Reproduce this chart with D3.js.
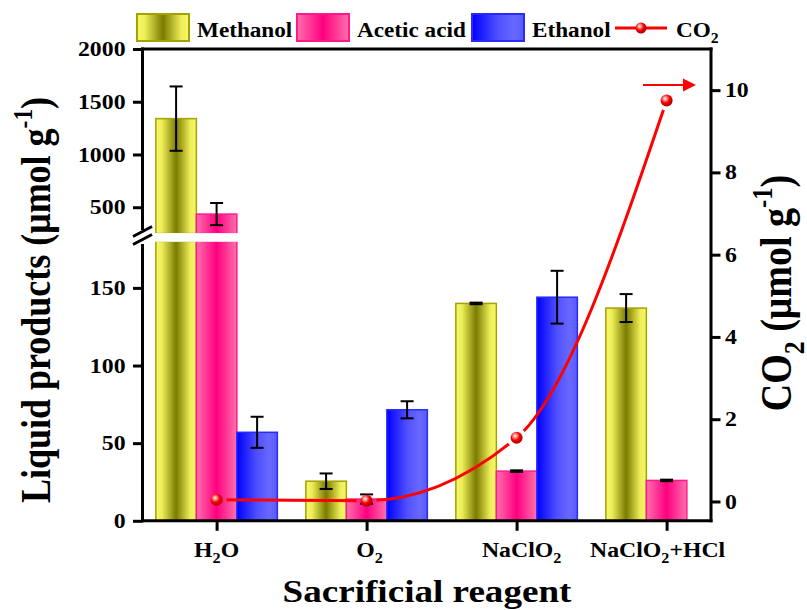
<!DOCTYPE html>
<html>
<head>
<meta charset="utf-8">
<script src="https://cdn.jsdelivr.net/npm/d3@7"></script>
<style>
  body { margin: 0; background: #fff; }
  svg { display: block; }
  text { font-family: "Liberation Serif", "Times New Roman", serif; font-weight: bold; fill: #000; }
</style>
</head>
<body>
<svg id="chart" width="807" height="610"></svg>
<script>
// data
const categories = ["H2O", "O2", "NaClO2", "NaClO2+HCl"];
const methanol = [1340, 25.5, 140, 137];
const methanolErr = [305, 5, 0.5, 9];
const acetic = [435, 14, 32, 26];
const aceticErr = [105, 3, 0.5, 0.5];
const ethanol = [57, 71.5, 144, null];
const ethanolErr = [10, 5.5, 17, null];
const co2 = [0.04, 0.02, 1.55, 9.75];

const lowTicks = [0, 50, 100, 150];
const upTicks = [500, 1000, 1500, 2000];
const rightTicks = [0, 2, 4, 6, 8, 10];

const stretch = 1.16; // the figure text is a bit wider than plain Times
const svg = d3.select("#chart");

// scales: x over category index, broken left axis (two pieces), right axis for CO2
const x = d3.scaleLinear().domain([0.506, 4.296]).range([142.5, 711]);
const yLow = d3.scaleLinear().domain([0, 180]).range([520.8, 241.3]);
const yUp = d3.scaleLinear().domain([250, 2000]).range([233.6, 49]);
const yR = d3.scaleLinear().domain([-0.47, 11.0]).range([520.8, 49]);
const breakAt = 180;

const defs = svg.append("defs");
function hGrad(id, stops) {
  const g = defs.append("linearGradient").attr("id", id)
    .attr("x1", 0).attr("x2", 1).attr("y1", 0).attr("y2", 0);
  stops.forEach(s => g.append("stop").attr("offset", s[0]).attr("stop-color", s[1]));
}
hGrad("gMeth", [[0, "#f7f76c"], [0.15, "#eeee58"], [0.5, "#7b7b00"], [0.85, "#eeee58"], [1, "#f7f76c"]]);
hGrad("gAcet", [[0, "#ff70ac"], [0.5, "#ff0080"], [1, "#ff70ac"]]);
hGrad("gEth", [[0, "#0000ff"], [0.5, "#5050ff"], [0.8, "#6868ff"], [1, "#5a5aff"]]);

const ball = defs.append("radialGradient").attr("id", "ball")
  .attr("cx", 0.38).attr("cy", 0.35).attr("r", 0.65);
[[0, "#ffffff"], [0.25, "#ff8a8a"], [0.55, "#ff0000"], [1, "#a80000"]]
  .forEach(s => ball.append("stop").attr("offset", s[0]).attr("stop-color", s[1]));

const series = [
  { name: "Methanol", values: methanol, err: methanolErr, fill: "url(#gMeth)", stroke: "#a3a300", off: -0.27 },
  { name: "Acetic acid", values: acetic, err: aceticErr, fill: "url(#gAcet)", stroke: "#ff1a8c", off: 0 },
  { name: "Ethanol", values: ethanol, err: ethanolErr, fill: "url(#gEth)", stroke: "#2a2aff", off: 0.27 }
];
const half = 0.135;

function yOf(v) { return v > breakAt ? yUp(v) : yLow(v); }

// bars
const plot = svg.append("g").attr("class", "bars");
series.forEach(s => {
  const rows = s.values.map((v, i) => ({ v, i, e: s.err[i] })).filter(d => d.v != null);
  const g = plot.append("g");
  rows.forEach(d => {
    const x0 = x(d.i + 1 + s.off - half), x1 = x(d.i + 1 + s.off + half);
    const parts = d.v > breakAt
      ? [[yLow(breakAt), yLow(0)], [yUp(d.v), yUp(250)]]
      : [[yLow(d.v), yLow(0)]];
    parts.forEach(p => {
      g.append("rect")
        .attr("x", x0).attr("width", x1 - x0)
        .attr("y", p[0]).attr("height", p[1] - p[0])
        .attr("fill", s.fill).attr("stroke", s.stroke).attr("stroke-width", 1.5);
    });
    if (d.v > breakAt) {
      g.append("rect")
        .attr("x", x0 - 2).attr("width", x1 - x0 + 4)
        .attr("y", yUp(250) - 0.5).attr("height", yLow(breakAt) - yUp(250) + 1)
        .attr("fill", "#fff");
    }
  });
  // error bars
  const eb = g.selectAll("g.err").data(rows).join("g").attr("class", "err")
    .attr("stroke", "#000").attr("stroke-width", 2);
  const cx = d => x(d.i + 1 + s.off);
  eb.append("line").attr("x1", cx).attr("x2", cx)
    .attr("y1", d => yOf(d.v + d.e)).attr("y2", d => yOf(d.v - d.e));
  eb.append("line").attr("x1", d => cx(d) - 6.5).attr("x2", d => cx(d) + 6.5)
    .attr("y1", d => yOf(d.v + d.e)).attr("y2", d => yOf(d.v + d.e));
  eb.append("line").attr("x1", d => cx(d) - 6.5).attr("x2", d => cx(d) + 6.5)
    .attr("y1", d => yOf(d.v - d.e)).attr("y2", d => yOf(d.v - d.e));
});

// CO2 line, with small gaps around the markers
const mask = defs.append("mask").attr("id", "gaps").attr("maskUnits", "userSpaceOnUse")
  .attr("x", 0).attr("y", 0).attr("width", 807).attr("height", 610);
mask.append("rect").attr("width", 807).attr("height", 610).attr("fill", "#fff");
co2.forEach((v, i) => mask.append("circle").attr("cx", x(i + 1)).attr("cy", yR(v)).attr("r", 10).attr("fill", "#000"));

const line = d3.line().x((d, i) => x(i + 1)).y(d => yR(d)).curve(d3.curveMonotoneX);
svg.append("path").datum(co2)
  .attr("d", line).attr("fill", "none").attr("stroke", "#ff0000").attr("stroke-width", 3)
  .attr("mask", "url(#gaps)");
svg.append("g").selectAll("circle").data(co2).join("circle")
  .attr("cx", (d, i) => x(i + 1)).attr("cy", d => yR(d)).attr("r", 6)
  .attr("fill", "url(#ball)");

// arrow pointing to the CO2 axis
svg.append("line").attr("x1", 643).attr("x2", 685).attr("y1", 85).attr("y2", 85)
  .attr("stroke", "#ff0000").attr("stroke-width", 2);
svg.append("path").attr("d", "M683,78.5 L696,85 L683,91.5 Z").attr("fill", "#ff0000");

// axes
const axW = 3;
function styleAxis(g, dx) {
  g.select(".domain").remove();
  g.selectAll(".tick line").attr("stroke", "#000").attr("stroke-width", axW);
  g.selectAll(".tick text")
    .attr("font-size", 20.5).attr("font-family", null)
    .attr("transform", `scale(${stretch},1)`)
    .attr("x", dx / stretch);
}
const fmt = d3.format("d");
svg.append("g").attr("transform", "translate(142.5,0)")
  .call(d3.axisLeft(yLow).tickValues(lowTicks).tickSize(9.5).tickFormat(fmt))
  .call(g => styleAxis(g, -17));
svg.append("g").attr("transform", "translate(142.5,0)")
  .call(d3.axisLeft(yUp).tickValues(upTicks).tickSize(9.5).tickFormat(fmt))
  .call(g => styleAxis(g, -17));
svg.append("g").attr("transform", "translate(711,0)")
  .call(d3.axisRight(yR).tickValues(rightTicks).tickSize(9.5).tickFormat(fmt))
  .call(g => styleAxis(g, 14));
svg.append("g").attr("transform", "translate(0,520.8)")
  .call(d3.axisBottom(x).tickValues(d3.range(1, categories.length + 1)).tickSize(10).tickFormat(""))
  .call(g => { g.select(".domain").remove(); g.selectAll(".tick line").attr("stroke", "#000").attr("stroke-width", axW); });

// frame lines
const frame = svg.append("g").attr("stroke", "#000").attr("stroke-width", axW).attr("fill", "none");
frame.append("path").attr("d", "M141,49 H712.5");
frame.append("path").attr("d", "M141,520.8 H712.5");
frame.append("path").attr("d", "M711,47.5 V522.3");
frame.append("path").attr("d", "M142.5,47.5 V230 M142.5,244 V522.3");
frame.append("path").attr("d", "M133,236.5 L152,226.5 M133,244.5 L152,234.5");

// text with digits as subscripts
function chemText(sel, str, size) {
  let back = 0;
  str.split(/(\d)/).filter(p => p !== "").forEach(p => {
    if (/\d/.test(p)) {
      sel.append("tspan").attr("font-size", size * 0.68).attr("dy", size * 0.3).text(p);
      back = -size * 0.3;
    } else {
      sel.append("tspan").attr("dy", back).text(p);
      back = 0;
    }
  });
  return back;
}

const labelShift = [0, 3, 5, -9];
categories.forEach((c, i) => {
  const t = svg.append("text")
    .attr("transform", `translate(${x(i + 1) + labelShift[i]},557) scale(${stretch},1)`)
    .attr("text-anchor", "middle").attr("font-size", 20.5);
  chemText(t, c, 20.5);
});

svg.append("text")
  .attr("transform", `translate(427,602) scale(${stretch},1)`)
  .attr("text-anchor", "middle").attr("font-size", 32)
  .text("Sacrificial reagent");

function unitTitle(tx, ty, size, lead) {
  const t = svg.append("text")
    .attr("transform", `translate(${tx},${ty}) scale(${stretch},1) rotate(-90)`)
    .attr("text-anchor", "middle").attr("font-size", size);
  const back = chemText(t, lead, size);
  t.append("tspan").attr("dy", back).text(" (\u03bcmol g");
  t.append("tspan").attr("font-size", size * 0.65).attr("dy", -size * 0.42).text("-1");
  t.append("tspan").attr("dy", size * 0.42).text(")");
}
unitTitle(50, 300, 36, "Liquid products");
unitTitle(791, 293, 38, "CO2");

// legend
const legend = svg.append("g");
const legX = [137, 297, 472];
series.forEach((s, j) => {
  legend.append("rect").attr("x", legX[j]).attr("y", 14).attr("width", 52).attr("height", 27)
    .attr("fill", s.fill).attr("stroke", s.stroke).attr("stroke-width", 2);
  legend.append("text")
    .attr("transform", `translate(${legX[j] + 60},36.5) scale(${stretch},1)`)
    .attr("font-size", 20).text(s.name);
});
legend.append("line").attr("x1", 615).attr("x2", 667).attr("y1", 28).attr("y2", 28)
  .attr("stroke", "#ff0000").attr("stroke-width", 3);
legend.append("circle").attr("cx", 641).attr("cy", 28).attr("r", 5.5).attr("fill", "url(#ball)");
const co2Leg = legend.append("text")
  .attr("transform", `translate(676,36.5) scale(${stretch},1)`).attr("font-size", 20);
chemText(co2Leg, "CO2", 20);
</script>
</body>
</html>
